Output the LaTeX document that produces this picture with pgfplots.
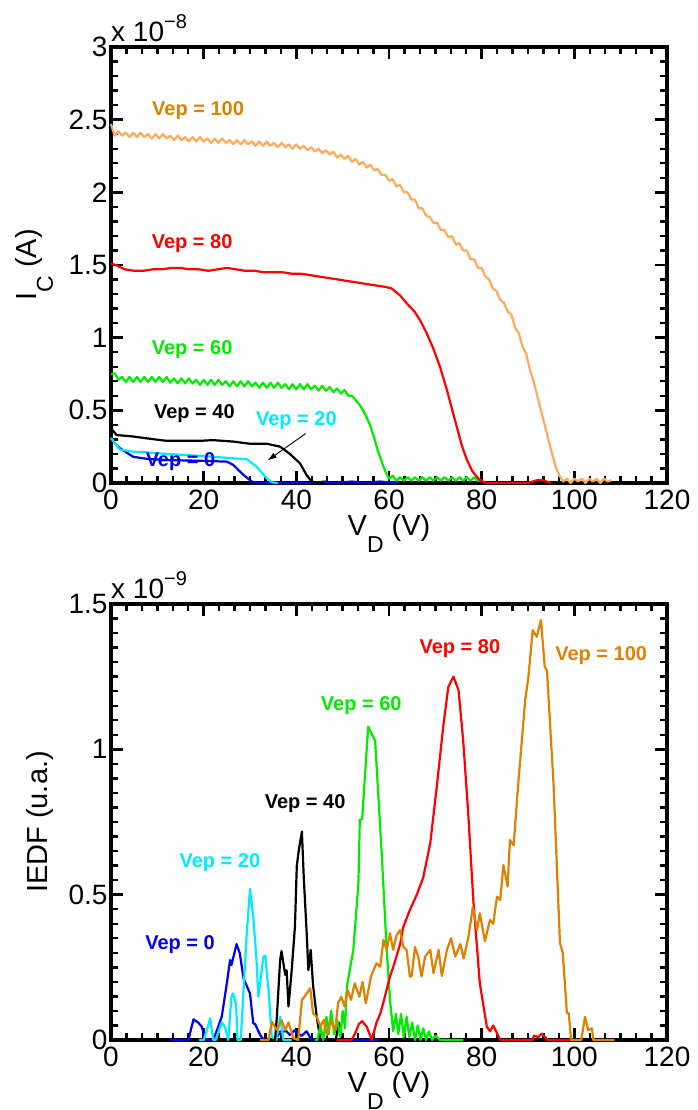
\documentclass[border=0pt]{standalone}
\usepackage{fontspec}
\setmainfont{Liberation Sans}
\usepackage{pgfplots}
\pgfplotsset{compat=1.18}
\usetikzlibrary{arrows.meta}

\definecolor{orL}{RGB}{255,170,90}
\definecolor{orD}{RGB}{224,128,0}
\definecolor{myred}{RGB}{255,0,0}
\definecolor{mygreen}{RGB}{0,235,0}
\definecolor{mycyan}{RGB}{0,235,255}
\definecolor{myblue}{RGB}{0,0,235}

\newcommand{\lab}{\bfseries\fontsize{20}{20}\selectfont}
\newcommand{\axf}{\fontsize{29}{29}\selectfont}

\pgfplotsset{
  myax/.style={
    scale only axis, width=556pt, height=436pt,
    xmin=0, xmax=120, xtick={0,20,...,120},
    xticklabels={0,20,40,60,80,100,120},
    minor x tick num=5,
    tick align=inside,
    major tick length=12pt, minor tick length=7pt,
    tick style={black, line width=2.6pt},
    minor tick style={black, line width=2.4pt},
    axis line style={line width=3.5pt},
    tick label style={font=\fontsize{28}{28}\selectfont},
    xticklabel style={yshift=-3pt},
    clip=false,
    every axis plot/.append style={line width=2.2pt, line join=round},
    /pgf/number format/assume math mode=true,
    xlabel={V\raisebox{-17pt}{\fontsize{23}{23}\selectfont D} (V)},
    every axis x label/.style={at={(axis description cs:0.5,-0.1193)}, anchor=base, font=\axf},
  }
}

\begin{document}
\begin{tikzpicture}
\path[use as bounding box] (0,0) rectangle (697pt,1110pt);

% ---------------- TOP ----------------
\begin{axis}[myax, at={(111pt,627pt)}, anchor=south west,
  ymin=0, ymax=3, ytick={0,0.5,...,3},
  yticklabels={0,0.5,1,1.5,2,2.5,3},
  minor y tick num=4,
  every axis y label/.style={at={(axis description cs:-0.1331,0.5)}, rotate=90, anchor=base, font=\axf},
  ylabel={I\raisebox{-16pt}{\fontsize{23}{23}\selectfont C} (A)}]

% Vep = 0 (blue)
\addplot[myblue] coordinates {
(0,0.30) (1.9,0.24) (4.8,0.18) (8,0.165) (12,0.158) (16,0.155) (19.2,0.153) (22,0.15) (25,0.147)
(26.4,0.124) (28.6,0.055) (30.4,0.01) (31.5,0) (44,0) (46,0.01) (48,0) (52,0.01) (55,0) (58,0.01) (62,0)};

% Vep = 20 (cyan)
\addplot[mycyan] coordinates {
(0,0.31) (1.9,0.23) (4.8,0.215) (8,0.21) (12,0.20) (16,0.193) (19.2,0.186) (23,0.178) (26.4,0.17)
(29.3,0.163) (31.4,0.113) (33.6,0.032) (34.7,0.005) (36,0)};

% Vep = 40 (black)
\addplot[black] coordinates {
(0,0.376) (1.2,0.33) (4.8,0.32) (7,0.31) (12,0.29) (15,0.29) (19.2,0.29) (22,0.295) (26.4,0.285)
(30,0.27) (33.6,0.27) (36.5,0.25) (38.6,0.20) (40.8,0.135) (42.2,0.055) (43.3,0.01) (44.5,0) (46,0)};

% Vep = 60 (green)
\addplot[mygreen] coordinates {
(0,0.75) (0.8,0.755) (1.6,0.71) (2.4,0.73) (3.2,0.695) (4.0,0.73) (4.8,0.695) (5.6,0.73) (6.4,0.695)
(7.2,0.73) (8.0,0.695) (8.8,0.73) (9.6,0.695) (10.4,0.73) (11.2,0.695) (12.0,0.73) (12.8,0.69)
(13.6,0.72) (14.4,0.685) (15.2,0.72) (16.0,0.685) (16.8,0.72) (17.6,0.685) (18.4,0.71) (19.2,0.675)
(20.0,0.71) (20.8,0.675) (21.6,0.71) (22.4,0.675) (23.2,0.71) (24.0,0.675) (24.8,0.70) (25.6,0.665)
(26.4,0.70) (27.2,0.665) (28.0,0.70) (28.8,0.665) (29.6,0.70) (30.4,0.665) (31.2,0.69) (32.0,0.655)
(32.8,0.69) (33.6,0.655) (34.4,0.69) (35.2,0.655) (36.0,0.69) (36.8,0.655) (37.6,0.68) (38.4,0.645)
(39.2,0.68) (40.0,0.645) (40.8,0.68) (41.6,0.645) (42.4,0.68) (43.2,0.645) (44.0,0.67) (44.8,0.635)
(45.6,0.67) (46.4,0.635) (47.2,0.66) (48.0,0.625) (48.8,0.65) (49.6,0.615) (50.4,0.64) (51.2,0.60)
(52.0,0.60) (52.8,0.57) (53.6,0.54) (54.4,0.50) (55.2,0.45) (56.0,0.39) (56.8,0.31) (57.6,0.22)
(58.4,0.15) (59.2,0.08) (60.0,0.03) (60.8,0.05) (61.6,0.015) (62.4,0.04) (63.2,0.015) (64.0,0.04)
(64.8,0.015) (65.6,0.04) (66.4,0.015) (67.2,0.04) (68.0,0.015) (68.8,0.04) (69.6,0.015) (70.4,0.04)
(71.2,0.015) (72.0,0.04) (72.8,0.015) (73.6,0.04) (74.4,0.015) (75.2,0.04) (76.0,0.015) (76.8,0.04)
(77.6,0.015) (78.4,0.04) (79.2,0.015) (80.0,0.02)};

% Vep = 80 (red)
\addplot[myred] coordinates {
(0,1.51) (1,1.50) (3,1.47) (5,1.46) (7,1.46) (9,1.47) (11,1.47) (13,1.48) (15,1.48) (17,1.47)
(19,1.47) (21,1.46) (23,1.47) (25,1.48) (27,1.47) (29,1.46) (31,1.46) (33,1.45) (35,1.45)
(37,1.45) (39,1.44) (41,1.44) (43,1.43) (45,1.42) (47,1.41) (49,1.40) (51,1.39) (53,1.38)
(55,1.37) (57,1.36) (59,1.35) (60.5,1.34) (62.4,1.29) (64,1.23) (65.5,1.18) (66.7,1.12)
(68,1.04) (69.5,0.93) (71,0.80) (72.5,0.64) (73.5,0.52) (74.6,0.39) (75.7,0.26) (76.8,0.16)
(78,0.08) (79.6,0.02) (81,0) (90,0) (91,0.01) (92,0.02) (93,0.02) (94,0.01) (95,0)};

% Vep = 100 (light orange)
\addplot[orL] coordinates {
(0,2.47) (0.8,2.39) (1.6,2.42) (2.4,2.39) (3.2,2.41) (4.0,2.38) (4.8,2.41) (5.6,2.38) (6.4,2.41)
(7.2,2.38) (8.0,2.40) (8.8,2.37) (9.6,2.40) (10.4,2.37) (11.2,2.40) (12.0,2.37) (12.8,2.39)
(13.6,2.36) (14.4,2.39) (15.2,2.36) (16.0,2.38) (16.8,2.35) (17.6,2.38) (18.4,2.35) (19.2,2.38)
(20.0,2.35) (20.8,2.37) (21.6,2.34) (22.4,2.37) (23.2,2.34) (24.0,2.37) (24.8,2.34) (25.6,2.36)
(26.4,2.33) (27.2,2.36) (28.0,2.33) (28.8,2.36) (29.6,2.33) (30.4,2.35) (31.2,2.32) (32.0,2.35)
(32.8,2.32) (33.6,2.35) (34.4,2.32) (35.2,2.34) (36.0,2.31) (36.8,2.34) (37.6,2.31) (38.4,2.33)
(39.2,2.30) (40.0,2.33) (40.8,2.30) (41.6,2.32) (42.4,2.29) (43.2,2.31) (44.0,2.28) (44.8,2.30)
(45.6,2.27) (46.4,2.29) (47.2,2.26) (48.0,2.28) (48.8,2.24) (49.6,2.26) (50.4,2.23) (51.2,2.25)
(52.0,2.21) (52.8,2.23) (53.6,2.19) (54.4,2.21) (55.2,2.17) (56.0,2.19) (56.8,2.15) (57.6,2.16)
(58.4,2.12) (59.2,2.12) (60.0,2.08) (60.8,2.09) (61.6,2.04) (62.4,2.05) (63.2,2.00) (64.0,2.00)
(64.8,1.95) (65.6,1.95) (66.4,1.89) (67.2,1.89) (68.0,1.84) (68.8,1.83) (69.6,1.79) (70.4,1.79)
(71.2,1.74) (72.0,1.74) (72.8,1.69) (73.6,1.70) (74.4,1.64) (75.2,1.65) (76.0,1.60) (76.8,1.60)
(77.6,1.54) (78.4,1.54) (79.2,1.48) (80.0,1.48) (80.8,1.42) (81.6,1.40) (82.4,1.34) (83.2,1.32)
(84.0,1.26) (84.8,1.24) (85.6,1.18) (86.4,1.16) (87.2,1.07) (88.0,1.03) (88.8,0.94) (89.6,0.89)
(90.4,0.78) (91.2,0.70) (92.0,0.60) (92.8,0.50) (93.6,0.40) (94.4,0.30) (95.2,0.20) (96.0,0.11)
(96.8,0.05) (97.6,0.01) (98.4,0.03) (99.2,0.00) (100.0,0.03) (100.8,0.01) (101.6,0.03) (102.4,0.0)
(103.2,0.03) (104.0,0.01) (104.8,0.03) (105.6,0.0) (106.4,0.03) (107.2,0.01) (108.0,0.02)};

\node[orD]     at (axis cs:18.8,2.56) {\lab Vep = 100};
\node[myred]   at (axis cs:17.5,1.65) {\lab Vep = 80};
\node[mygreen] at (axis cs:17.5,0.92) {\lab Vep = 60};
\node[black]   at (axis cs:18,0.475) {\lab Vep = 40};
\node[mycyan]  at (axis cs:40,0.43) {\lab Vep = 20};
\node[myblue]  at (axis cs:15,0.15) {\lab Vep = 0};
\draw[-{Latex[length=9pt,width=6pt]}, line width=0.9pt] (axis cs:42,0.34) -- (axis cs:33.8,0.155);

\node[anchor=south west, inner sep=0pt, font=\fontsize{28}{28}\selectfont]
  at ([yshift=5pt]rel axis cs:0,1) {x 10\raisebox{13pt}{\fontsize{20}{20}\selectfont −8}};
\end{axis}

% ---------------- BOTTOM ----------------
\begin{axis}[myax, at={(111pt,70pt)}, anchor=south west,
  ymin=0, ymax=1.5, ytick={0,0.5,1,1.5},
  yticklabels={0,0.5,1,1.5},
  minor y tick num=9,
  every axis y label/.style={at={(axis description cs:-0.1151,0.5)}, rotate=90, anchor=base, font=\axf},
  ylabel={IEDF (u.a.)}]

% Vep = 0
\addplot[myblue] coordinates {
(12.7,0) (16.7,0) (17.8,0.071) (18.8,0.06) (19.6,0.046) (20.3,0) (22.1,0) (23.9,0.08) (25,0.195)
(25.7,0.275) (26.0,0.258) (27.1,0.33) (27.8,0.298) (28.6,0.212) (30,0.16) (30.7,0.057) (31.1,0.055)
(32.2,0.017) (33,0) (35.5,0) (36.5,0.029) (37.9,0.03) (38.6,0.017) (39.7,0.034) (41.1,0.014)
(42.2,0.03) (43.3,0) (58,0)};

% Vep = 20
\addplot[mycyan] coordinates {
(19,0) (20,0) (20.7,0.034) (21.4,0.075) (22.1,0) (22.6,0) (23.9,0.06) (24.6,0.046) (25.3,0)
(26.0,0.149) (26.3,0.16) (27.0,0.125) (27.3,0) (28.0,0) (29.3,0.367) (30.0,0.52) (30.7,0.424)
(31.4,0.275) (31.8,0.149) (32.9,0.287) (33.3,0.29) (34,0.172) (34.7,0.011) (35.7,0) (36.5,0.08)
(37.2,0) (39,0)};

% Vep = 40
\addplot[black] coordinates {
(29,0) (35.4,0) (35.8,0.08) (36.5,0.275) (36.8,0.306) (37.6,0.224) (37.9,0.24) (38.3,0.115)
(39,0.24) (39.7,0.39) (40.1,0.60) (40.6,0.66) (41.2,0.717) (41.6,0.56) (42.2,0.378) (42.6,0.24)
(43.1,0.31) (43.6,0.19) (44.4,0.08) (45.2,0) (48.5,0) (49.2,0.06) (50,0) (52,0)};

% Vep = 60
\addplot[mygreen] coordinates {
(44,0) (44.5,0) (45.2,0.05) (45.8,0) (46.5,0.08) (47.0,0.02) (47.5,0.1) (48.2,0.02) (48.8,0.07)
(49.5,0.01) (50.0,0.1) (50.5,0.04) (50.9,0.183) (52.3,0.31) (53.4,0.54) (53.7,0.757) (54.2,0.76)
(55.5,1.078) (57,1.03) (58.4,0.65) (59.5,0.31) (60.2,0.14) (60.9,0.03) (61.5,0.09) (62.0,0.02)
(62.6,0.09) (63.2,0.01) (63.8,0.08) (64.4,0.01) (65,0.06) (65.6,0) (66.2,0.05) (66.8,0) (67.4,0.04)
(68,0) (68.6,0.03) (69.3,0) (70,0.015) (71,0) (76,0)};

% Vep = 80
\addplot[myred] coordinates {
(48.7,0) (51.9,0) (52.7,0.023) (53.5,0.055) (54.2,0.065) (55.2,0.045) (56.3,0) (57.3,0.06)
(58.1,0.09) (58.8,0.13) (60.2,0.218) (60.9,0.25) (62.4,0.33) (63.1,0.39) (64.5,0.447) (66.0,0.50)
(67.4,0.56) (68.9,0.677) (70.3,0.87) (71.7,1.078) (72.8,1.215) (73.9,1.25) (75,1.204) (76,1.032)
(77.1,0.78) (78.2,0.48) (79.6,0.195) (81.1,0.046) (81.8,0.03) (82.5,0.05) (84,0) (91,0)
(91.3,0.015) (92.2,0.01) (93.0,0.022) (94.2,0) (100,0)};

% Vep = 100
\addplot[orD] coordinates {
(32.2,0) (34,0) (34.7,0.063) (35.8,0.034) (36.8,0.069) (37.6,0.034) (38.3,0.06) (39.4,0.006)
(40.4,0) (41.2,0.138) (41.8,0.15) (43,0.178) (43.6,0.092) (44.4,0.08) (45.2,0.046) (45.9,0.069)
(46.6,0.017) (47.3,0.069) (48.4,0.034) (49.0,0.126) (49.7,0.149) (50.4,0.115) (51.1,0.172)
(51.8,0.138) (52.6,0.195) (53.6,0.149) (54.3,0.2) (55,0.126) (56.1,0.218) (57.3,0.264) (58.1,0.252)
(58.8,0.344) (59.5,0.31) (60.2,0.367) (60.9,0.31) (61.6,0.36) (62.4,0.378) (63.1,0.32) (63.8,0.31)
(64.5,0.218) (64.9,0.22) (65.6,0.32) (66.3,0.287) (67.0,0.218) (67.8,0.287) (68.9,0.31) (69.6,0.23)
(70.7,0.31) (71.4,0.22) (72.5,0.31) (73.4,0.35) (74.3,0.287) (75.4,0.33) (76.1,0.28) (77.1,0.35)
(78.1,0.459) (79.0,0.378) (79.6,0.436) (80.7,0.34) (81.8,0.413) (82.5,0.4) (83.3,0.493) (84.0,0.482)
(84.7,0.602) (85.6,0.528) (86.1,0.688) (86.9,0.67) (87.9,0.883) (89.4,1.17) (90.1,1.25) (91.0,1.41)
(91.9,1.387) (92.8,1.445) (93.6,1.285) (94.1,1.27) (95.5,0.883) (96.9,0.333) (97.5,0.3) (98.4,0.092)
(98.8,0.092) (99.3,0) (101.5,0) (102.3,0.08) (103.0,0.034) (103.8,0.04) (104.1,0) (108.7,0)};

\node[myred]   at (axis cs:75.3,1.348) {\lab Vep = 80};
\node[orD]     at (axis cs:105.8,1.324) {\lab Vep = 100};
\node[mygreen] at (axis cs:54,1.152) {\lab Vep = 60};
\node[black]   at (axis cs:41.9,0.815) {\lab Vep = 40};
\node[mycyan]  at (axis cs:23.5,0.612) {\lab Vep = 20};
\node[myblue]  at (axis cs:14.9,0.327) {\lab Vep = 0};

\node[anchor=south west, inner sep=0pt, font=\fontsize{28}{28}\selectfont]
  at ([yshift=5pt]rel axis cs:0,1) {x 10\raisebox{13pt}{\fontsize{20}{20}\selectfont −9}};
\end{axis}
\end{tikzpicture}
\end{document}
